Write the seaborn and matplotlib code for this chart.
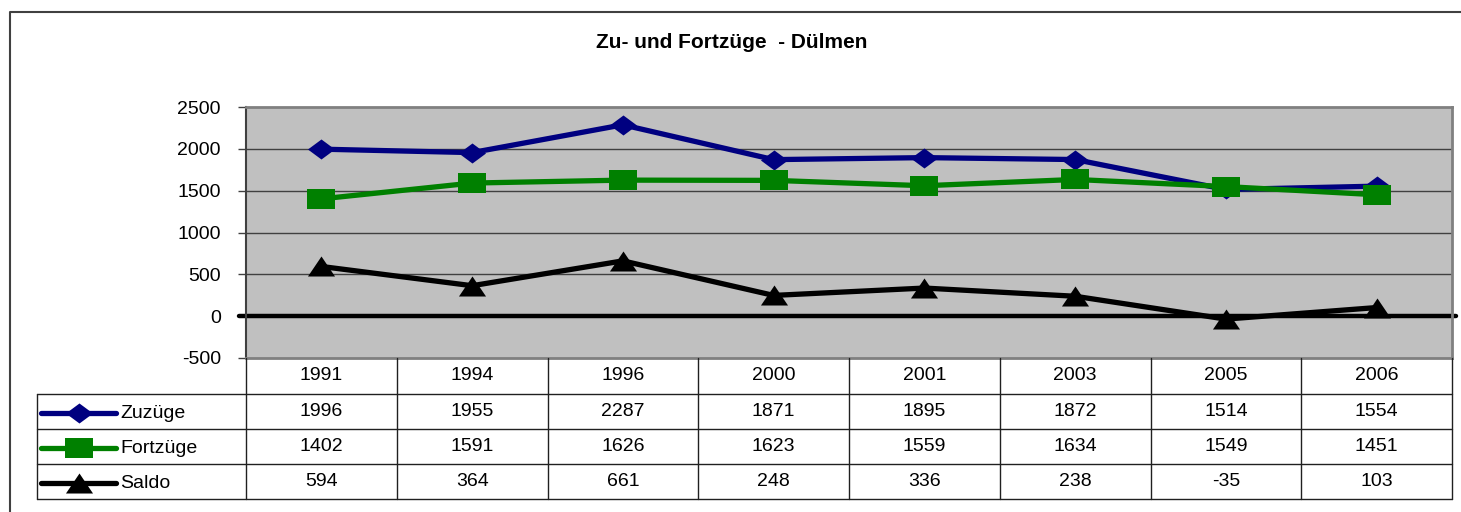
import numpy as np
import pandas as pd
import matplotlib
matplotlib.use("Agg")
import matplotlib.pyplot as plt
import seaborn as sns

# ------------------------------------------
# Data
# ------------------------------------------
years = ["1991", "1994", "1996", "2000", "2001", "2003", "2005", "2006"]
zuzuege = [1996, 1955, 2287, 1871, 1895, 1872, 1514, 1554]
fortzuege = [1402, 1591, 1626, 1623, 1559, 1634, 1549, 1451]
saldo = [594, 364, 661, 248, 336, 238, -35, 103]

series_names = ["Zuzüge", "Fortzüge", "Saldo"]
series_values = [zuzuege, fortzuege, saldo]
series_colors = ["#000080", "#008000", "#000000"]

title = "Zu- und Fortzüge  - Dülmen"
y_ticks = [-500, 0, 500, 1000, 1500, 2000, 2500]

# squashed markers (the original chart is stretched horizontally)
diamond = [(-1, 0), (0, 0.74), (1, 0), (0, -0.74), (-1, 0)]
square = [(-1, -0.74), (1, -0.74), (1, 0.74), (-1, 0.74), (-1, -0.74)]
triangle = [(-1, -0.74), (1, -0.74), (0, 0.74), (-1, -0.74)]
series_markers = [diamond, square, triangle]

sns.set_style("white")
plt.rcParams["font.family"] = ["Liberation Sans", "DejaVu Sans"]
plt.rcParams["text.color"] = "black"
plt.rcParams["ytick.labelcolor"] = "black"

FS = 14

W, H = 1461, 512
fig = plt.figure(figsize=(W / 100, H / 100), dpi=100)

# pixel layout
px_left, px_right, px_top, px_bottom = 246, 1452, 107, 358


def fx(x):
    return x / W


def fy(y):
    return 1 - y / H


ax = fig.add_axes([fx(px_left), fy(px_bottom), fx(px_right - px_left),
                   (px_bottom - px_top) / H])
ax.set_facecolor("#C0C0C0")

df = pd.DataFrame({"pos": np.arange(len(years)) + 0.5})
for name, vals, col, mk in zip(series_names, series_values, series_colors, series_markers):
    df[name] = vals
    sns.lineplot(data=df, x="pos", y=name, ax=ax, color=col, linewidth=3.8,
                 marker=mk, markersize=19.5, markeredgewidth=0,
                 markerfacecolor=col, zorder=3, legend=False)

ax.set_xlim(0, len(years))
ax.set_ylim(-500, 2500)
ax.set_yticks(y_ticks)
ax.set_yticklabels([str(t) for t in y_ticks])
ax.set_xticks([])
ax.set_xlabel("")
ax.set_ylabel("")
for t in y_ticks:
    if 0 < t < 2500:
        ax.axhline(t, color="#404040", linewidth=1, zorder=1)
ax.axhline(0, xmin=-0.006, xmax=1.003, color="black", linewidth=3.2,
           zorder=2, clip_on=False)
ax.tick_params(axis="y", left=True, length=6, width=1, color="#404040",
               pad=12, labelsize=FS, labelcolor="black")
for s in ax.spines.values():
    s.set_color("#808080")
    s.set_linewidth(2)
ax.spines["left"].set_color("#404040")
ax.spines["left"].set_linewidth(1.5)

# ------------------------------------------
# Overlay: frame, title and data table
# ------------------------------------------
ov = fig.add_axes([0, 0, 1, 1], facecolor="none")
ov.set_xlim(0, W)
ov.set_ylim(H, 0)
ov.axis("off")

ov.plot([10, 10, W], [H, 12, 12], color="#404040", linewidth=1.5)
ov.text(732, 42, title, ha="center", va="center", fontsize=15,
        fontweight="bold")

n = len(years)
col_w = (px_right - px_left) / n
row_edges = [358, 394, 429, 464, 499]
tbl_left = 37
lc = "#202020"

# horizontal lines
ov.plot([px_left, px_right], [row_edges[1], row_edges[1]], color=lc, lw=1)
ov.plot([tbl_left, px_left], [row_edges[1], row_edges[1]], color=lc, lw=1)
for y in row_edges[2:]:
    ov.plot([tbl_left, px_right], [y, y], color=lc, lw=1)
# vertical lines
ov.plot([tbl_left, tbl_left], [row_edges[1], row_edges[-1]], color=lc, lw=1)
for i in range(n + 1):
    x = px_left + i * col_w
    ov.plot([x, x], [row_edges[0], row_edges[-1]], color=lc, lw=1)

for i, yr in enumerate(years):
    cx = px_left + (i + 0.5) * col_w
    ov.text(cx, (row_edges[0] + row_edges[1]) / 2, yr, ha="center",
            va="center", fontsize=FS)
    for r, vals in enumerate(series_values):
        cy = (row_edges[r + 1] + row_edges[r + 2]) / 2
        ov.text(cx, cy, str(vals[i]), ha="center", va="center", fontsize=FS)

for r, (name, col, mk) in enumerate(zip(series_names, series_colors, series_markers)):
    cy = (row_edges[r + 1] + row_edges[r + 2]) / 2 + 1
    ov.plot([41, 116], [cy, cy], color=col, linewidth=3.8)
    ov.plot([78.5], [cy], marker=mk, markersize=19.5, color=col,
            markeredgewidth=0)
    ov.text(120, cy + 1, name, ha="left", va="center", fontsize=FS)

fig.savefig("out.png", dpi=100)
